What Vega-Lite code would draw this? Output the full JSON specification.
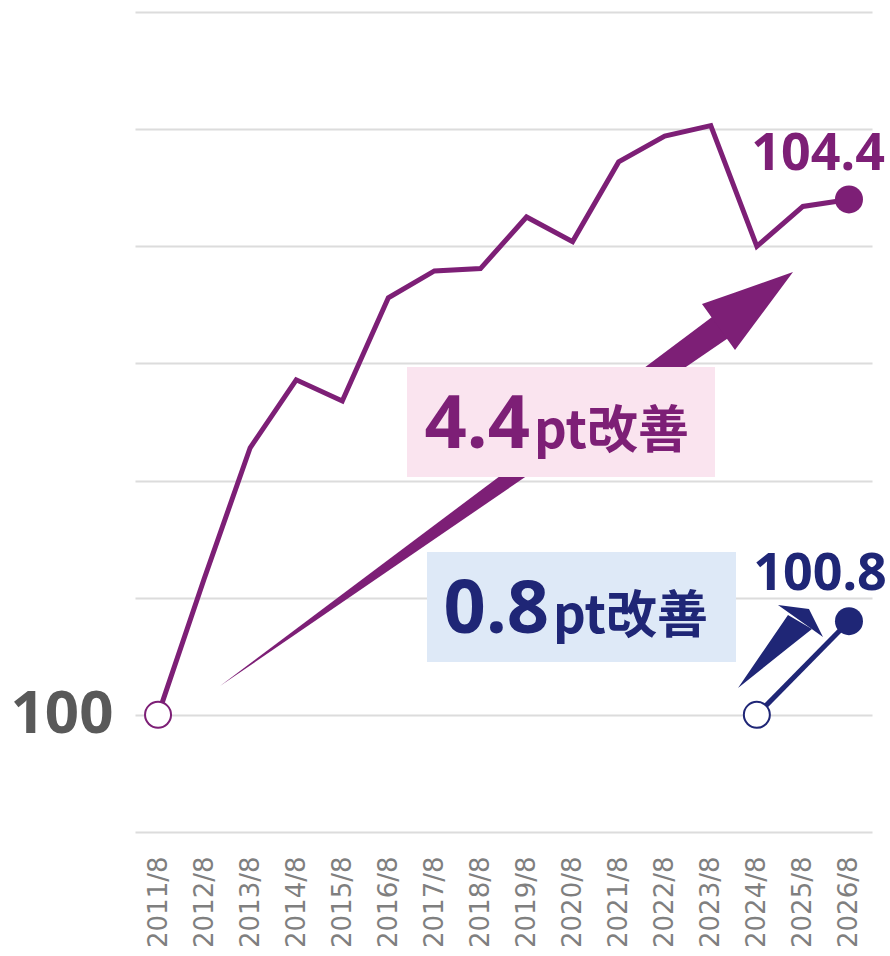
{
  "$schema": "https://vega.github.io/schema/vega-lite/v6.json",
  "width": 737,
  "height": 820,
  "autosize": {"type": "none"},
  "padding": {"left": 135, "top": 12, "right": 18, "bottom": 124},
  "background": "white",
  "config": {"view": {"stroke": null}},
  "datasets": {
    "series": [
      {"series": "A", "date": 2011, "value": 100},
      {"series": "A", "date": 2012, "value": 101.16},
      {"series": "A", "date": 2013, "value": 102.28},
      {"series": "A", "date": 2014, "value": 102.86},
      {"series": "A", "date": 2015, "value": 102.68},
      {"series": "A", "date": 2016, "value": 103.56},
      {"series": "A", "date": 2017, "value": 103.79},
      {"series": "A", "date": 2018, "value": 103.81},
      {"series": "A", "date": 2019, "value": 104.25},
      {"series": "A", "date": 2020, "value": 104.04},
      {"series": "A", "date": 2021, "value": 104.72},
      {"series": "A", "date": 2022, "value": 104.94},
      {"series": "A", "date": 2023, "value": 105.03},
      {"series": "A", "date": 2024, "value": 104.0},
      {"series": "A", "date": 2025, "value": 104.34},
      {"series": "A", "date": 2026, "value": 104.4},
      {"series": "B", "date": 2024, "value": 100},
      {"series": "B", "date": 2026, "value": 100.8}
    ],
    "arrows": [
      {"series": "A", "part": "shaft", "date": 2012.345, "value": 100.246, "value2": 100.246},
      {"series": "A", "part": "shaft", "date": 2023.078, "value": 103.412, "value2": 103.136},
      {"series": "A", "part": "shaft", "date": 2023.404, "value": 103.224, "value2": 103.224},
      {"series": "A", "part": "head", "date": 2022.809, "value": 103.507, "value2": 103.507},
      {"series": "A", "part": "head", "date": 2023.526, "value": 103.606, "value2": 103.115},
      {"series": "A", "part": "head", "date": 2024.785, "value": 103.78, "value2": 103.78},
      {"series": "B", "part": "shaft", "date": 2023.591, "value": 100.229, "value2": 100.229},
      {"series": "B", "part": "shaft", "date": 2024.676, "value": 100.852, "value2": 100.57},
      {"series": "B", "part": "shaft", "date": 2025.197, "value": 100.733, "value2": 100.733},
      {"series": "B", "part": "head", "date": 2024.459, "value": 100.938, "value2": 100.938},
      {"series": "B", "part": "head", "date": 2025.132, "value": 100.904, "value2": 100.75},
      {"series": "B", "part": "head", "date": 2025.436, "value": 100.665, "value2": 100.665}
    ],
    "endLabels": [
      {"series": "A", "date": 2025.33, "value": 104.65, "label": "104.4"},
      {"series": "B", "date": 2025.37, "value": 101.066, "label": "100.8"}
    ],
    "diffNumbers": [
      {"series": "A", "date": 2019.075, "value": 102.278, "label": "4.4"},
      {"series": "B", "date": 2019.488, "value": 100.699, "label": "0.8"}
    ],
    "diffUnits": [
      {"series": "A", "date": 2019.162, "value": 102.278, "label": "pt改善"},
      {"series": "B", "date": 2019.575, "value": 100.699, "label": "pt改善"}
    ]
  },
  "encoding": {
    "x": {
      "field": "date", "type": "quantitative",
      "scale": {"domain": [2010.5, 2026.5], "nice": false, "zero": false},
      "axis": {
        "values": [2011, 2012, 2013, 2014, 2015, 2016, 2017, 2018, 2019, 2020, 2021, 2022, 2023, 2024, 2025, 2026],
        "labelExpr": "datum.value + '/8'",
        "labelAngle": -90, "labelFont": "DejaVu Sans", "labelFontSize": 26,
        "labelColor": "#7f7f7f", "labelPadding": 24, "labelFlush": false, "labelOverlap": false,
        "grid": false, "domain": false, "ticks": false, "title": null
      }
    },
    "y": {
      "field": "value", "type": "quantitative",
      "scale": {"domain": [99, 106], "nice": false, "zero": false},
      "axis": {
        "values": [99, 100, 101, 102, 103, 104, 105, 106],
        "labelExpr": "datum.value == 100 ? '100' : ''",
        "labelFont": "Noto Sans", "labelFontSize": 60, "labelFontWeight": "bold",
        "labelColor": "#595959", "labelPadding": 22, "labelFlush": false, "labelOverlap": false,
        "grid": true, "gridColor": "#dcdcdc", "gridWidth": 2,
        "domain": false, "ticks": false, "title": null
      }
    }
  },
  "layer": [
    {
      "data": {"name": "series"},
      "mark": {"type": "line", "strokeWidth": 5, "strokeJoin": "miter"},
      "encoding": {
        "color": {"field": "series", "type": "nominal", "scale": {"domain": ["A", "B"], "range": ["#7d1f76", "#1f2676"]}, "legend": null}
      }
    },
    {
      "data": {"name": "arrows"},
      "mark": {"type": "area", "opacity": 1},
      "encoding": {
        "y": {"field": "value", "type": "quantitative", "stack": null},
        "y2": {"field": "value2"},
        "detail": {"field": "part"},
        "color": {"field": "series", "type": "nominal", "legend": null}
      }
    },
    {
      "data": {"values": [{"date": 2016.405, "date2": 2023.092, "value": 102.969, "value2": 102.03}]},
      "mark": {"type": "rect", "color": "#fae4ef"},
      "encoding": {
        "x2": {"field": "date2"},
        "y2": {"field": "value2"}
      }
    },
    {
      "data": {"values": [{"date": 2016.839, "date2": 2023.547, "value": 101.39, "value2": 100.451}]},
      "mark": {"type": "rect", "color": "#dee9f7"},
      "encoding": {
        "x2": {"field": "date2"},
        "y2": {"field": "value2"}
      }
    },
    {
      "data": {"name": "endLabels"},
      "mark": {"type": "text", "font": "Noto Sans", "fontSize": 52, "fontWeight": "bold", "align": "center", "baseline": "alphabetic"},
      "encoding": {
        "text": {"field": "label"},
        "color": {"field": "series", "type": "nominal", "legend": null}
      }
    },
    {
      "data": {"name": "diffNumbers"},
      "mark": {"type": "text", "font": "Noto Sans", "fontSize": 74, "fontWeight": "bold", "align": "right", "baseline": "alphabetic"},
      "encoding": {
        "text": {"field": "label"},
        "color": {"field": "series", "type": "nominal", "legend": null}
      }
    },
    {
      "data": {"name": "diffUnits"},
      "mark": {"type": "text", "font": "Noto Sans CJK JP", "fontSize": 51, "fontWeight": "bold", "align": "left", "baseline": "alphabetic"},
      "encoding": {
        "text": {"field": "label"},
        "color": {"field": "series", "type": "nominal", "legend": null}
      }
    },
    {
      "data": {"name": "series"},
      "transform": [{"filter": "(datum.series == 'A' && datum.date == 2011) || (datum.series == 'B' && datum.date == 2024)"}],
      "mark": {"type": "circle", "size": 676, "fill": "white", "strokeWidth": 2, "opacity": 1},
      "encoding": {
        "stroke": {"field": "series", "type": "nominal", "scale": {"domain": ["A", "B"], "range": ["#7d1f76", "#1f2676"]}, "legend": null}
      }
    },
    {
      "data": {"name": "series"},
      "transform": [{"filter": "datum.date == 2026"}],
      "mark": {"type": "circle", "size": 784, "opacity": 1},
      "encoding": {
        "color": {"field": "series", "type": "nominal", "legend": null}
      }
    }
  ]
}
